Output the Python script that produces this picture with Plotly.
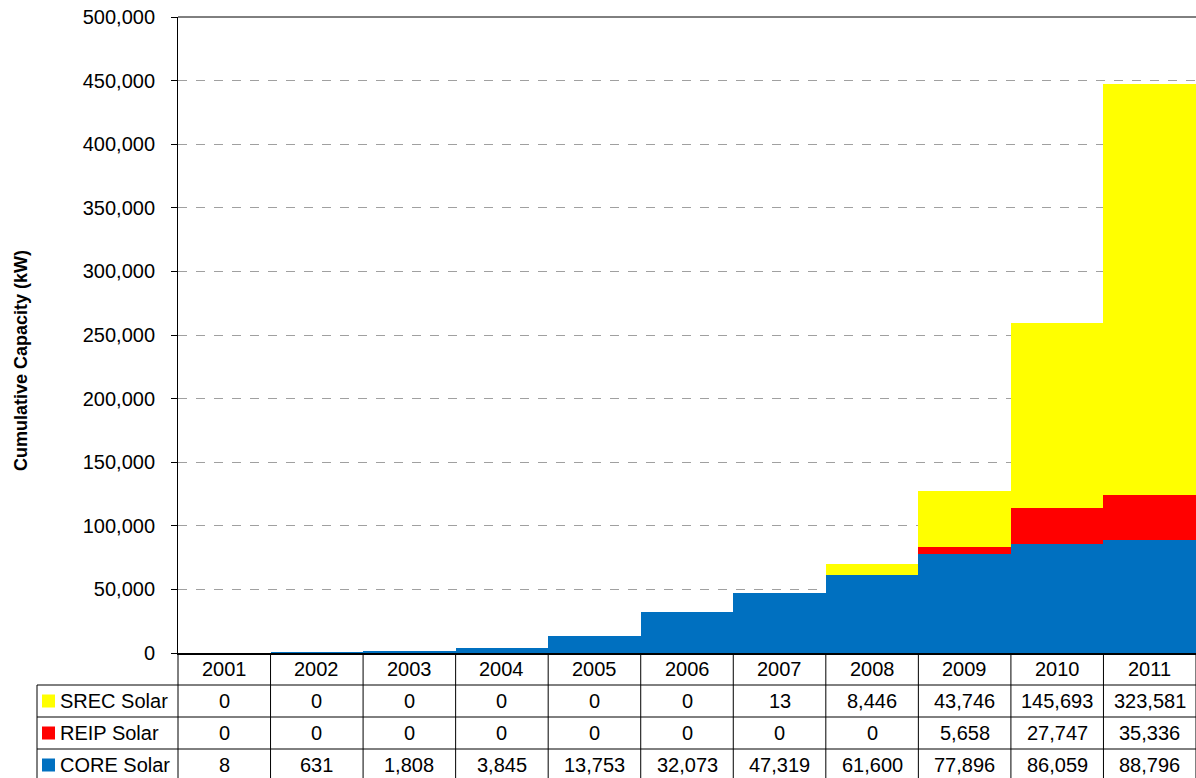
import plotly.graph_objects as go

years = ["2001", "2002", "2003", "2004", "2005", "2006", "2007", "2008", "2009", "2010", "2011"]
srec = [0, 0, 0, 0, 0, 0, 13, 8446, 43746, 145693, 323581]
reip = [0, 0, 0, 0, 0, 0, 0, 0, 5658, 27747, 35336]
core = [8, 631, 1808, 3845, 13753, 32073, 47319, 61600, 77896, 86059, 88796]

# (name, values, swatch colour, bar fill) -- bar fills are a hair below full opacity so
# sub-pixel segments are rounded away instead of being widened to a visible 1px sliver
series = [
    ("CORE Solar", core, "#0070C0", "rgba(0,112,192,0.999)"),
    ("REIP Solar", reip, "#FF0000", "rgba(255,0,0,0.999)"),
    ("SREC Solar", srec, "#FFFF00", "rgba(255,255,0,0.999)"),
]
# table row order (top to bottom)
table_rows = [series[2], series[1], series[0]]

FONT = "Liberation Sans, Arial, sans-serif"
FS = 20
ROW_H = 32
LABEL_W = 141

fig = go.Figure()
for name, vals, color, fill in series:
    fig.add_trace(go.Bar(x=years, y=vals, name=name, marker=dict(color=fill, line=dict(width=0)),
                         hoverinfo="x+y+name"))

shapes = []
annotations = []
n = len(years)
line = dict(color="black", width=1)


def col_edge(i):
    # paper x of the left edge of category i (category axis spans -0.5 .. n-0.5)
    return i / n


# top border of plot area
shapes.append(dict(type="line", xref="paper", yref="paper", x0=0, x1=1, y0=1, y1=1, line=line, layer="above"))

# horizontal table lines below the axis
for r in range(1, 4):
    shapes.append(dict(type="line", xref="paper", x0=0, x1=1, yref="paper", ysizemode="pixel", yanchor=0,
                       y0=-ROW_H * r, y1=-ROW_H * r, line=line))
    shapes.append(dict(type="line", xref="paper", xsizemode="pixel", xanchor=0, x0=-LABEL_W, x1=0,
                       yref="paper", ysizemode="pixel", yanchor=0, y0=-ROW_H * r, y1=-ROW_H * r, line=line))
# label column left border
shapes.append(dict(type="line", xref="paper", xsizemode="pixel", xanchor=0, x0=-LABEL_W, x1=-LABEL_W,
                   yref="paper", ysizemode="pixel", yanchor=0, y0=-ROW_H, y1=-ROW_H * 4 - 4, line=line))
# vertical column lines
for i in range(n + 1):
    xe = col_edge(i)
    shapes.append(dict(type="line", xref="paper", x0=xe, x1=xe, yref="paper", ysizemode="pixel", yanchor=0,
                       y0=0, y1=-ROW_H * 4 - 4, line=line))

# year header
for i, yr in enumerate(years):
    annotations.append(dict(x=i, xref="x", y=0, yref="paper", yshift=-ROW_H / 2, text=yr, showarrow=False,
                            xanchor="center", yanchor="middle", font=dict(size=FS, color="black", family=FONT)))

# data rows
for r, (name, vals, color, _fill) in enumerate(table_rows, start=1):
    ymid = -ROW_H * r - ROW_H / 2
    shapes.append(dict(type="rect", xref="paper", xsizemode="pixel", xanchor=0, x0=-136, x1=-123,
                       yref="paper", ysizemode="pixel", yanchor=0, y0=ymid - 6.5, y1=ymid + 6.5,
                       fillcolor=color, line=dict(width=0)))
    annotations.append(dict(x=0, xref="paper", xshift=-120, y=0, yref="paper", yshift=ymid, text=name,
                            showarrow=False, xanchor="left", yanchor="middle",
                            font=dict(size=FS, color="black", family=FONT)))
    for i, v in enumerate(vals):
        annotations.append(dict(x=i, xref="x", y=0, yref="paper", yshift=ymid, text=f"{v:,}",
                                showarrow=False, xanchor="center", yanchor="middle",
                                font=dict(size=FS, color="black", family=FONT)))

# y axis title
annotations.append(dict(x=-0.1542, xref="paper", y=0.459, yref="paper", text="<b>Cumulative Capacity (kW)</b>",
                        textangle=-90, showarrow=False, xanchor="center", yanchor="middle",
                        font=dict(size=18, color="black", family=FONT)))

fig.update_layout(
    width=1196, height=778,
    margin=dict(l=178, r=0, t=17, b=125),
    barmode="stack", bargap=0,
    paper_bgcolor="white", plot_bgcolor="white",
    showlegend=False,
    font=dict(family=FONT, size=FS, color="black"),
    shapes=shapes, annotations=annotations,
    xaxis=dict(type="category", range=[-0.5, n - 0.5], showticklabels=False, ticks="",
               showline=True, linecolor="black", linewidth=2, showgrid=False, zeroline=False),
    yaxis=dict(range=[0, 500000], dtick=50000, tickformat=",", showline=True, linecolor="black", linewidth=1,
               ticks="outside", ticklen=6, tickcolor="black", ticklabelstandoff=12,
               showgrid=True, gridcolor="#a0a0a0", griddash="dash", gridwidth=1, zeroline=False,
               tickfont=dict(size=FS, color="black", family=FONT)),
)

fig.write_html("out.html")
